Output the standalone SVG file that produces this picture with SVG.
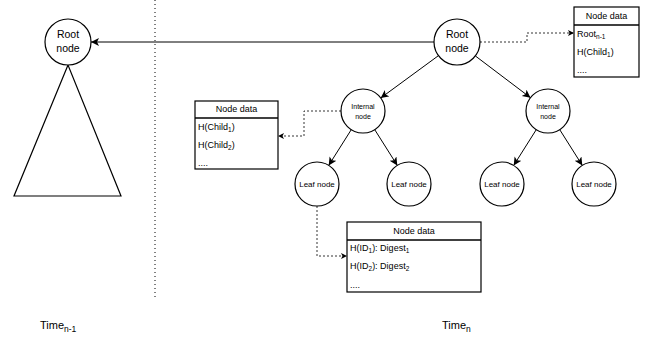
<svg xmlns="http://www.w3.org/2000/svg" width="651" height="339" viewBox="0 0 651 339" font-family="'Liberation Sans', Arimo, Arial, Helvetica, sans-serif">
<style>
text{font-family:"Liberation Sans",Arimo,Arial,Helvetica,sans-serif;fill:#000}
.c{fill:#fff;stroke:#000;stroke-width:1.2}
.e{fill:none;stroke:#000;stroke-width:1}
.d{fill:none;stroke:#000;stroke-width:0.8;stroke-dasharray:2 2}
.box{fill:#fff;stroke:#000;stroke-width:1.2}
.hl{stroke:#000;stroke-width:1.5}
.n{font-size:10.5px;text-anchor:middle}
.s{font-size:7px;text-anchor:middle}
.l{font-size:8px;text-anchor:middle}
.r{font-size:9px}
.h{font-size:9px;text-anchor:middle}
</style>
<defs>
<marker id="a" markerWidth="10" markerHeight="10" refX="8" refY="4" orient="auto" markerUnits="userSpaceOnUse"><path d="M0,0 L8,4 L0,8 L2,4 Z" fill="#000"/></marker>
<marker id="b" markerWidth="8" markerHeight="8" refX="6" refY="3" orient="auto" markerUnits="userSpaceOnUse"><path d="M0,0 L6,3 L0,6 L1.5,3 Z" fill="#000"/></marker>
</defs>
<line x1="155" y1="0" x2="155" y2="298" stroke="#000" stroke-width="1" stroke-dasharray="1 3"/>
<g id="connectors">
<line class="e" x1="434" y1="42" x2="91" y2="42" marker-end="url(#a)"/>
<line class="e" x1="438.5" y1="55.6" x2="380.7" y2="98" marker-end="url(#a)"/>
<line class="e" x1="475.3" y1="55.9" x2="530.5" y2="97.7" marker-end="url(#a)"/>
<line class="e" x1="351.3" y1="129.6" x2="328.7" y2="165.4" marker-end="url(#a)"/>
<line class="e" x1="374.7" y1="129.6" x2="397.3" y2="165.4" marker-end="url(#a)"/>
<line class="e" x1="536.3" y1="129.6" x2="513.7" y2="165.4" marker-end="url(#a)"/>
<line class="e" x1="559.7" y1="129.6" x2="582.3" y2="165.4" marker-end="url(#a)"/>
<path class="d" d="M480,42 H527 V33 H574" marker-end="url(#b)"/>
<path class="d" d="M341,111 H304 V136 H278" marker-end="url(#b)"/>
<path class="d" d="M317,206 V256 H347" marker-end="url(#b)"/>
</g>
<g id="old-tree">
<path d="M68,65 L14,196 L121,196 Z" fill="none" stroke="#000" stroke-width="1.2"/>
</g>
<g id="old-root">
<circle class="c" cx="68" cy="42" r="23"/>
<text class="n" x="68" y="38">Root</text>
<text class="n" x="68" y="52">node</text>
</g>
<g id="root">
<circle class="c" cx="457" cy="42" r="23"/>
<text class="n" x="457" y="38">Root</text>
<text class="n" x="457" y="52">node</text>
</g>
<g id="internal-left">
<circle class="c" cx="363" cy="111" r="22"/>
<text class="s" x="363" y="109">Internal</text>
<text class="s" x="363" y="119">node</text>
</g>
<g id="internal-right">
<circle class="c" cx="548" cy="111" r="22"/>
<text class="s" x="548" y="109">Internal</text>
<text class="s" x="548" y="119">node</text>
</g>
<g id="leaf1"><circle class="c" cx="317" cy="184" r="22"/><text class="l" x="317" y="187">Leaf node</text></g>
<g id="leaf2"><circle class="c" cx="409" cy="184" r="22"/><text class="l" x="409" y="187">Leaf node</text></g>
<g id="leaf3"><circle class="c" cx="502" cy="184" r="22"/><text class="l" x="502" y="187">Leaf node</text></g>
<g id="leaf4"><circle class="c" cx="594" cy="184" r="22"/><text class="l" x="594" y="187">Leaf node</text></g>
<g id="data-root">
<rect class="box" x="574" y="7" width="65" height="70"/>
<line class="hl" x1="574" y1="25" x2="639" y2="25"/>
<text class="h" x="606.5" y="19">Node data</text>
<text class="r" x="577" y="37">Root<tspan font-size="6.5" dy="2">n-1</tspan></text>
<text class="r" x="577" y="55">H(Child<tspan font-size="6.5" dy="2">1</tspan><tspan dy="-2">)</tspan></text>
<text class="r" x="577" y="73">....</text>
</g>
<g id="data-internal">
<rect class="box" x="195" y="101" width="83" height="68"/>
<line class="hl" x1="195" y1="118" x2="278" y2="118"/>
<text class="h" x="236.5" y="112">Node data</text>
<text class="r" x="198" y="130">H(Child<tspan font-size="6.5" dy="2">1</tspan><tspan dy="-2">)</tspan></text>
<text class="r" x="198" y="148">H(Child<tspan font-size="6.5" dy="2">2</tspan><tspan dy="-2">)</tspan></text>
<text class="r" x="198" y="166">....</text>
</g>
<g id="data-leaf">
<rect class="box" x="347" y="222" width="134" height="70"/>
<line class="hl" x1="347" y1="240" x2="481" y2="240"/>
<text class="h" x="414" y="234">Node data</text>
<text class="r" x="350" y="251">H(ID<tspan font-size="6.5" dy="2">1</tspan><tspan dy="-2">): Digest</tspan><tspan font-size="6.5" dy="2">1</tspan></text>
<text class="r" x="350" y="269">H(ID<tspan font-size="6.5" dy="2">2</tspan><tspan dy="-2">): Digest</tspan><tspan font-size="6.5" dy="2">2</tspan></text>
<text class="r" x="350" y="288">....</text>
</g>
<g id="labels">
<text x="40" y="329" font-size="11">Time<tspan font-size="8.5" dy="3">n-1</tspan></text>
<text x="442" y="329" font-size="11">Time<tspan font-size="8.5" dy="3">n</tspan></text>
</g>
</svg>
